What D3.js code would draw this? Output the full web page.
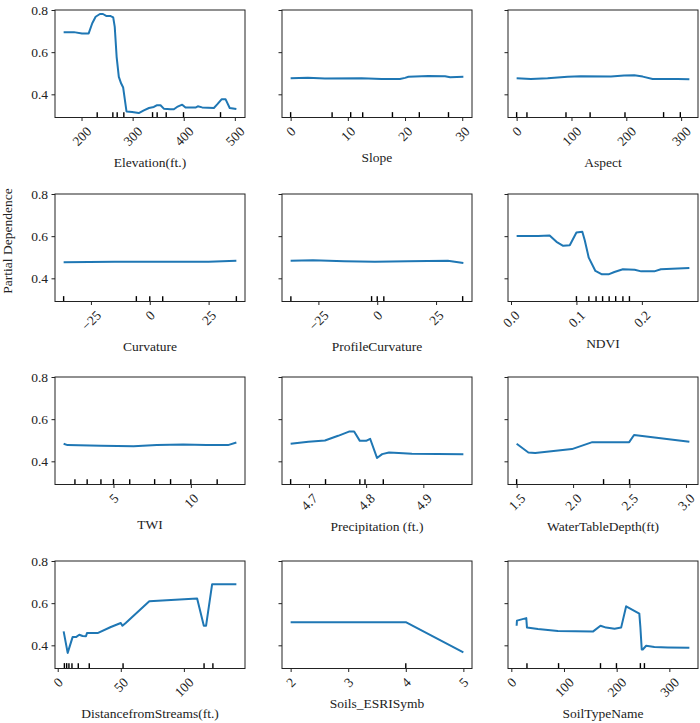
<!DOCTYPE html>
<html>
<head>
<meta charset="utf-8">
<script src="https://cdn.jsdelivr.net/npm/d3@7"></script>
<style>
  html, body { margin: 0; padding: 0; background: #fff; }
  svg { display: block; }
  svg text { font-family: "Liberation Serif", "Times New Roman", serif; }
</style>
</head>
<body>
<script>
// Partial dependence values
const elevationX = [165, 185, 201, 214, 221, 227.6, 236, 242, 249, 257, 262, 265, 268.7, 273, 277.6, 281.5, 288, 299, 312, 322, 332, 341.5, 347, 354.6, 361, 374, 380.7, 387, 397, 403.5, 423, 427.6, 436, 459, 465.5, 474, 482, 490, 503];
const elevationY = [0.695, 0.695, 0.689, 0.689, 0.737, 0.768, 0.781, 0.781, 0.771, 0.771, 0.765, 0.72, 0.578, 0.483, 0.451, 0.432, 0.319, 0.316, 0.311, 0.324, 0.335, 0.34, 0.348, 0.348, 0.332, 0.329, 0.329, 0.34, 0.351, 0.337, 0.337, 0.343, 0.338, 0.335, 0.352, 0.376, 0.376, 0.335, 0.33];
const elevationDeciles = [230.7, 261.3, 269.8, 282.8, 339, 348, 365.7, 399.6, 472];

const slopeX = [0, 3, 6, 12.4, 15.9, 19.1, 20, 20.6, 24.1, 27, 27.9, 30.2];
const slopeY = [0.476, 0.478, 0.475, 0.476, 0.473, 0.473, 0.478, 0.483, 0.487, 0.486, 0.481, 0.483];
const slopeDeciles = [0, 7.25, 10.5, 12.6, 17.8, 22.5, 27.6];

const aspectX = [0, 26, 56.5, 93, 117, 172, 196, 214.6, 230, 248, 269, 293.6, 315];
const aspectY = [0.476, 0.473, 0.476, 0.483, 0.486, 0.484, 0.489, 0.49, 0.484, 0.473, 0.473, 0.473, 0.471];
const aspectDeciles = [0, 18.8, 90, 134, 197.6, 268, 298.5];

const curvatureX = [-36.6, -15, 10, 25, 36.8];
const curvatureY = [0.476, 0.478, 0.478, 0.479, 0.483];
const curvatureDeciles = [-36.6, -5.7, 0, 5.5, 36.8];

const profileX = [-36.8, -27.3, -14, -1, 13, 30, 36.6];
const profileY = [0.483, 0.486, 0.481, 0.479, 0.481, 0.483, 0.473];
const profileDeciles = [-36.7, -2.4, 0, 2.8, 36.3];

const ndviX = [0.0086, 0.0416, 0.059, 0.0695, 0.0797, 0.0898, 0.1, 0.109, 0.1127, 0.1188, 0.129, 0.139, 0.149, 0.158, 0.171, 0.189, 0.199, 0.219, 0.229, 0.255, 0.2726];
const ndviY = [0.601, 0.601, 0.603, 0.573, 0.554, 0.557, 0.617, 0.621, 0.581, 0.498, 0.435, 0.419, 0.419, 0.43, 0.443, 0.441, 0.433, 0.433, 0.443, 0.446, 0.449];
const ndviDeciles = [0.1, 0.119, 0.13, 0.14, 0.15, 0.16, 0.171, 0.181];

const twiX = [1.78, 2.03, 4.2, 6.3, 7.8, 9.5, 11, 12.4, 12.94];
const twiY = [0.483, 0.477, 0.474, 0.472, 0.477, 0.48, 0.477, 0.477, 0.489];
const twiDeciles = [2.51, 3.3, 4.19, 5, 6.05, 7.66, 8.69, 10, 11.7];

const precipX = [4.668, 4.699, 4.728, 4.751, 4.77, 4.779, 4.789, 4.8, 4.807, 4.819, 4.828, 4.84, 4.857, 4.88, 4.97];
const precipY = [0.483, 0.493, 0.499, 0.521, 0.541, 0.541, 0.497, 0.497, 0.507, 0.416, 0.434, 0.442, 0.44, 0.436, 0.433];
const precipDeciles = [4.668, 4.729, 4.789, 4.798, 4.83];

const waterX = [1.5, 1.604, 1.664, 1.99, 2.17, 2.497, 2.54, 3.03];
const waterY = [0.483, 0.442, 0.44, 0.458, 0.491, 0.491, 0.525, 0.4925];
const waterDeciles = [1.5, 2.27, 2.5];

const streamsX = [4.7, 7.9, 11.8, 14.5, 17.1, 19.7, 22.4, 23.2, 31.6, 42.1, 50, 51.3, 53.9, 72.6, 110.5, 115.8, 117.6, 122.4, 141.6];
const streamsY = [0.466, 0.364, 0.439, 0.439, 0.45, 0.444, 0.443, 0.458, 0.458, 0.487, 0.506, 0.493, 0.506, 0.609, 0.622, 0.493, 0.493, 0.69, 0.69];
const streamsDeciles = [5.3, 7.1, 8.9, 11.3, 16.3, 25, 51.8, 116, 123];

const soilsX = [2, 4, 5];
const soilsY = [0.51, 0.51, 0.367];
const soilsDeciles = [4];

const soilTypeX = [10.1, 10.7, 28.4, 29.7, 50.5, 88.4, 154.8, 169.3, 180, 196, 208.5, 218, 243, 245, 247.6, 249.5, 256, 271.6, 297, 338];
const soilTypeY = [0.493, 0.517, 0.529, 0.485, 0.477, 0.468, 0.465, 0.493, 0.484, 0.479, 0.484, 0.585, 0.55, 0.487, 0.38, 0.38, 0.398, 0.392, 0.39, 0.389];
const soilTypeDeciles = [29.7, 89.7, 169.3, 199.6, 245, 252.7];

// tick labels
const yTicks = [0.4, 0.6, 0.8];
const elevationTicks = [200, 300, 400, 500];
const slopeTicks = [0, 10, 20, 30];
const aspectTicks = [0, 100, 200, 300];
const curvatureTicks = [-25, 0, 25];
const ndviTicks = [0.0, 0.1, 0.2];
const twiTicks = [5, 10];
const precipTicks = [4.7, 4.8, 4.9];
const waterTicks = [1.5, 2.0, 2.5, 3.0];
const streamsTicks = [0, 50, 100];
const soilsTicks = [2, 3, 4, 5];
const soilTypeTicks = [0, 100, 200, 300];

const panels = [
  {label: 'Elevation(ft.)', x: elevationX, y: elevationY, deciles: elevationDeciles, ticks: elevationTicks, fmt: 'd'},
  {label: 'Slope', x: slopeX, y: slopeY, deciles: slopeDeciles, ticks: slopeTicks, fmt: 'd'},
  {label: 'Aspect', x: aspectX, y: aspectY, deciles: aspectDeciles, ticks: aspectTicks, fmt: 'd'},
  {label: 'Curvature', x: curvatureX, y: curvatureY, deciles: curvatureDeciles, ticks: curvatureTicks, fmt: 'd'},
  {label: 'ProfileCurvature', x: profileX, y: profileY, deciles: profileDeciles, ticks: curvatureTicks, fmt: 'd'},
  {label: 'NDVI', x: ndviX, y: ndviY, deciles: ndviDeciles, ticks: ndviTicks, fmt: '.1f'},
  {label: 'TWI', x: twiX, y: twiY, deciles: twiDeciles, ticks: twiTicks, fmt: 'd'},
  {label: 'Precipitation (ft.)', x: precipX, y: precipY, deciles: precipDeciles, ticks: precipTicks, fmt: '.1f'},
  {label: 'WaterTableDepth(ft)', x: waterX, y: waterY, deciles: waterDeciles, ticks: waterTicks, fmt: '.1f'},
  {label: 'DistancefromStreams(ft.)', x: streamsX, y: streamsY, deciles: streamsDeciles, ticks: streamsTicks, fmt: 'd'},
  {label: 'Soils_ESRISymb', x: soilsX, y: soilsY, deciles: soilsDeciles, ticks: soilsTicks, fmt: 'd'},
  {label: 'SoilTypeName', x: soilTypeX, y: soilTypeY, deciles: soilTypeDeciles, ticks: soilTypeTicks, fmt: 'd'}
];

const width = 700, height = 723;
const colX = [55, 282, 508];
const rowY = [10, 194, 377, 561];
const plotW = 190, plotH = 107.5;
const fontSize = 13.5;
const tickLen = 3.5;

const svg = d3.select('body').append('svg')
  .attr('width', width)
  .attr('height', height);

const yScale = d3.scaleLinear().domain([0.29, 0.8]).range([plotH, 0]);

panels.forEach((p, i) => {
  const col = i % 3, row = Math.floor(i / 3);
  const g = svg.append('g').attr('transform', `translate(${colX[col]},${rowY[row]})`);

  const lo = d3.min(p.x), hi = d3.max(p.x);
  const pad = (hi - lo) * 0.05;
  const xScale = d3.scaleLinear().domain([lo - pad, hi + pad]).range([0, plotW]);

  // x axis, labels turned 45 degrees
  const xAxis = g.append('g')
    .attr('transform', `translate(0,${plotH})`)
    .call(d3.axisBottom(xScale).tickValues(p.ticks).tickSize(tickLen).tickSizeOuter(0).tickFormat(d3.format(p.fmt)))
    .attr('font-family', null).attr('font-size', null);
  xAxis.select('.domain').remove();
  xAxis.selectAll('line').attr('stroke', '#222');
  xAxis.selectAll('text')
    .attr('fill', '#222')
    .style('font-size', fontSize + 'px')
    .attr('y', 0).attr('dy', '0.32em')
    .attr('transform', function() {
      const w = this.getComputedTextLength();
      const cy = tickLen + 3.5 + (w + fontSize) / (2 * Math.SQRT2);
      return `translate(0,${cy}) rotate(-45)`;
    });

  // y axis
  const yAxis = g.append('g')
    .call(d3.axisLeft(yScale).tickValues(yTicks).tickSize(tickLen).tickSizeOuter(0)
      .tickFormat(col === 0 ? d3.format('.1f') : ''))
    .attr('font-family', null).attr('font-size', null);
  yAxis.select('.domain').remove();
  yAxis.selectAll('line').attr('stroke', '#222');
  yAxis.selectAll('text').attr('fill', '#222').style('font-size', fontSize + 'px').attr('x', -tickLen - 3.5);

  // deciles
  g.append('g').selectAll('line')
    .data(p.deciles)
    .enter().append('line')
    .attr('x1', d => xScale(d)).attr('x2', d => xScale(d))
    .attr('y1', plotH).attr('y2', plotH - plotH * 0.05)
    .attr('stroke', '#000')
    .attr('stroke-width', 1.4);

  // pd line
  const pts = p.x.map((v, k) => [v, p.y[k]]);
  g.append('path')
    .datum(pts)
    .attr('fill', 'none')
    .attr('stroke', '#1f77b4')
    .attr('stroke-width', 2)
    .attr('stroke-linejoin', 'round')
    .attr('d', d3.line().x(d => xScale(d[0])).y(d => yScale(d[1])));

  // frame
  g.append('rect')
    .attr('width', plotW).attr('height', plotH)
    .attr('fill', 'none')
    .attr('stroke', '#222')
    .attr('stroke-width', 1);

  // x label under the tick labels
  const bb = xAxis.node().getBBox();
  g.append('text')
    .attr('x', plotW / 2)
    .attr('y', plotH + bb.y + bb.height + 7)
    .attr('dy', '0.8em')
    .attr('text-anchor', 'middle')
    .attr('fill', '#222')
    .style('font-size', fontSize + 'px')
    .text(p.label);
});

svg.append('text')
  .attr('transform', 'translate(8,241) rotate(-90)')
  .attr('text-anchor', 'middle')
  .attr('dy', '0.32em')
  .attr('fill', '#222')
  .style('font-size', fontSize + 'px')
  .text('Partial Dependence');
</script>
</body>
</html>
